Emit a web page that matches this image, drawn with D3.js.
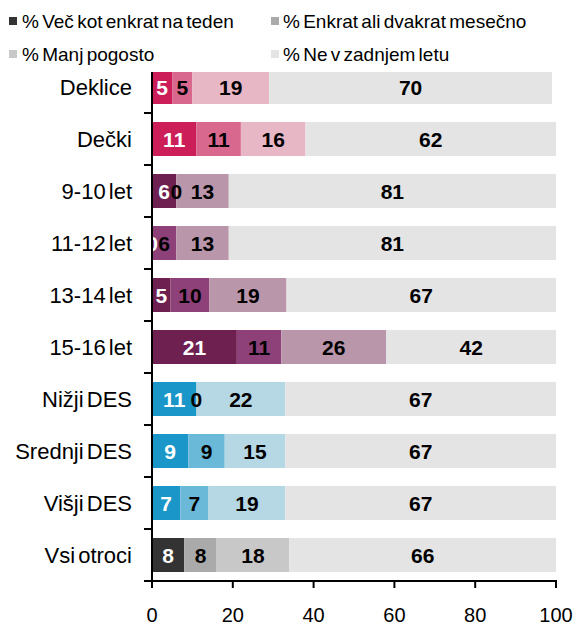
<!DOCTYPE html>
<html>
<head>
<meta charset="utf-8">
<script src="https://cdn.jsdelivr.net/npm/d3@7"></script>
<style>
  html, body { margin: 0; padding: 0; background: #fff; }
  svg { display: block; }
  text { font-family: "Liberation Sans", Arial, sans-serif; }
</style>
</head>
<body>
<svg id="chart" width="579" height="625"></svg>
<script>
// ---- Data (estimated shares; labels show rounded values) ----
const categories = ["Deklice", "Dečki", "9-10 let", "11-12 let", "13-14 let", "15-16 let", "Nižji DES", "Srednji DES", "Višji DES", "Vsi otroci"];
const seriesNames = ["% Več kot enkrat na teden", "% Enkrat ali dvakrat mesečno", "% Manj pogosto", "% Ne v zadnjem letu"];
const weekly      = [5, 11, 6, 0, 4.6, 21, 11, 9, 7, 8];
const monthly     = [5, 11, 0, 6, 9.6, 11, 0, 9, 7, 8];
const lessOften   = [19, 16, 13, 13, 19.1, 26, 22, 15, 19, 18];
const notLastYear = [70, 62, 81, 81, 66.7, 42, 67, 67, 67, 66];
const groups = ["gender", "gender", "age", "age", "age", "age", "ses", "ses", "ses", "all"];
const xTicks = [0, 20, 40, 60, 80, 100];

const palettes = {
  gender: ["#cc1f5a", "#d9688f", "#e8b7c6", "#e4e4e4"],
  age:    ["#6e2150", "#8e4078", "#b996aa", "#e4e4e4"],
  ses:    ["#1a96c8", "#6bb9d8", "#b5d8e4", "#e4e4e4"],
  all:    ["#333333", "#aaaaaa", "#c8c8c8", "#e4e4e4"]
};
const legendColors = palettes.all;

const series = [weekly, monthly, lessOften, notLastYear];

// ---- Layout ----
const svg = d3.select("#chart");
const x = d3.scaleLinear().domain([0, 100]).range([152, 556]);
const y = d3.scaleBand().domain(categories).range([61, 581]).paddingInner(0.346).paddingOuter(0.173);

// Build segment data
const segs = [];
categories.forEach((c, i) => {
  let cum = 0;
  series.forEach((s, k) => {
    const v = s[i];
    segs.push({cat: c, k, v, x0: cum, x1: cum + v, color: palettes[groups[i]][k]});
    cum += v;
  });
});

// Bars
svg.append("g").selectAll("rect").data(segs).join("rect")
  .attr("x", d => x(d.x0))
  .attr("y", d => y(d.cat))
  .attr("width", d => x(d.x1) - x(d.x0))
  .attr("height", y.bandwidth())
  .attr("fill", d => d.color);

// Value labels
svg.append("g").selectAll("text").data(segs).join("text")
  .attr("x", d => x((d.x0 + d.x1) / 2))
  .attr("y", d => y(d.cat) + y.bandwidth() / 2)
  .attr("dy", "0.36em")
  .attr("text-anchor", "middle")
  .attr("font-size", 21)
  .attr("font-weight", "bold")
  .attr("fill", d => d.k === 0 ? "#ffffff" : "#000000")
  .text(d => Math.round(d.v));

// Y axis line and ticks (at band boundaries)
const boundaries = d3.range(categories.length + 1).map(i => 61 + i * (520 / categories.length));
svg.append("line").attr("x1", 152).attr("x2", 152).attr("y1", 61).attr("y2", 582)
  .attr("stroke", "#000").attr("stroke-width", 2);
svg.append("g").selectAll("line").data(boundaries).join("line")
  .attr("x1", 144).attr("x2", 152)
  .attr("y1", d => d).attr("y2", d => d)
  .attr("stroke", "#000").attr("stroke-width", 2);

// Category labels
svg.append("g").selectAll("text").data(categories).join("text")
  .attr("x", 132)
  .attr("y", d => y(d) + y.bandwidth() / 2)
  .attr("dy", "0.36em")
  .attr("text-anchor", "end")
  .attr("font-size", 22)
  .attr("word-spacing", -3)
  .attr("fill", "#000")
  .text(d => d);

// X axis
svg.append("line").attr("x1", 151).attr("x2", 557).attr("y1", 581).attr("y2", 581)
  .attr("stroke", "#000").attr("stroke-width", 2);
svg.append("g").selectAll("line").data(xTicks).join("line")
  .attr("x1", d => x(d)).attr("x2", d => x(d))
  .attr("y1", 581).attr("y2", 588)
  .attr("stroke", "#000").attr("stroke-width", 2);
svg.append("g").selectAll("text").data(xTicks).join("text")
  .attr("x", d => x(d))
  .attr("y", 622)
  .attr("text-anchor", "middle")
  .attr("font-size", 20)
  .attr("fill", "#000")
  .text(d => d);

// Legend background (covers plot top)
svg.append("rect").attr("x", 0).attr("y", 0).attr("width", 579).attr("height", 72).attr("fill", "#fff");

const legendPos = [
  {sx: 9, tx: 22, cy: 21},
  {sx: 271, tx: 283, cy: 21},
  {sx: 9, tx: 22, cy: 54},
  {sx: 271, tx: 283, cy: 54}
];
const lg = svg.append("g");
seriesNames.forEach((name, k) => {
  const p = legendPos[k];
  lg.append("rect").attr("x", p.sx).attr("y", p.cy - 4).attr("width", 8).attr("height", 8)
    .attr("fill", legendColors[k]);
  lg.append("text").attr("x", p.tx).attr("y", p.cy).attr("dy", "0.36em")
    .attr("font-size", 19).attr("word-spacing", -2).attr("fill", "#000").text(name);
});
</script>
</body>
</html>
